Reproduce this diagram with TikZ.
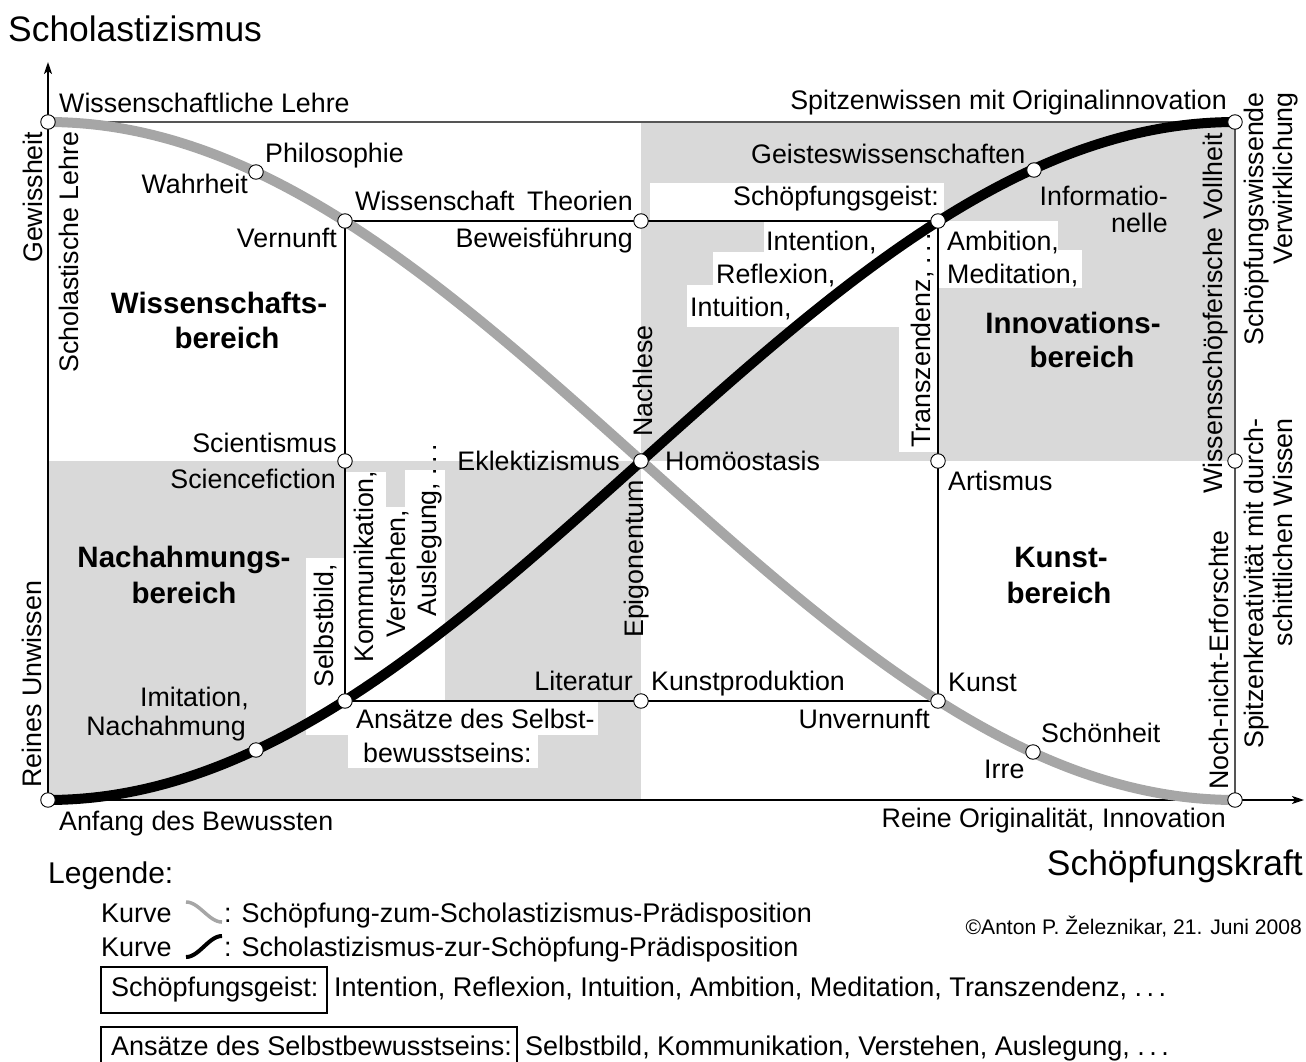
\documentclass[tikz,border=0pt]{standalone}
\usepackage{fontspec}
\setmainfont{Liberation Sans}
\usetikzlibrary{arrows.meta}
\definecolor{regiongray}{RGB}{217,217,217}
\definecolor{curvegray}{RGB}{166,166,166}
\definecolor{linegray}{RGB}{85,85,85}
\begin{document}
\begin{tikzpicture}[x=1pt,y=-1pt,
  lbl/.style={font=\fontsize{26.8}{32}\selectfont, inner sep=0pt},
  bld/.style={font=\fontsize{29.5}{35}\selectfont\bfseries, inner sep=0pt},
  big/.style={font=\fontsize{35.4}{42}\selectfont, inner sep=0pt},
  leg/.style={font=\fontsize{27}{32}\selectfont, inner sep=0pt},
  dot/.style={circle, draw, fill=white, minimum size=14.5pt, inner sep=0pt, line width=0.9pt},
  rectline/.style={line width=1.2pt},
  axis/.style={line width=2pt, -{Stealth[length=12pt,width=8pt,inset=3pt]}},
  vert/.style={lbl, rotate=90}
]
\useasboundingbox (0,0) rectangle (1306,1062);

% gray regions
\fill[regiongray] (641,122) rectangle (1235,461);
\fill[regiongray] (48,461) rectangle (641,800);
% white label backgrounds
\fill[white] (650,183) rectangle (944,221);
\fill[white] (764,221) rectangle (899,253);
\fill[white] (713,252) rectangle (899,286);
\fill[white] (687,285) rectangle (899,327);
\fill[white] (899,221) rectangle (938,452);
\fill[white] (938,221) rectangle (1058,251);
\fill[white] (938,250) rectangle (1082,288);
\fill[white] (306,558) rectangle (346,735);
\fill[white] (345,472) rectangle (386,701);
\fill[white] (385,507) rectangle (406,701);
\fill[white] (405,470) rectangle (445,701);
\fill[white] (345,701) rectangle (598,735);
\fill[white] (348,734) rectangle (538,768);

% coordinates of the points
\coordinate (A) at (48,122);
\coordinate (B) at (48,800);
\coordinate (P) at (256,172);
\coordinate (I) at (256,750);
\coordinate (TL) at (345,221);
\coordinate (ML) at (345,461);
\coordinate (BL) at (345,701);
\coordinate (TM) at (641,221);
\coordinate (C) at (641,461);
\coordinate (BM) at (641,701);
\coordinate (TR) at (938,221);
\coordinate (MR) at (938,461);
\coordinate (BR) at (938,701);
\coordinate (G) at (1034,170);
\coordinate (S) at (1033,752);
\coordinate (RT) at (1235,122);
\coordinate (RM) at (1235,461);
\coordinate (RB) at (1235,800);
\coordinate (ytip) at (48,62);
\coordinate (xtip) at (1304,800);

% lines
\draw[linegray, line width=1.6pt] (A) -- (RT);
\draw[linegray, line width=1.8pt] (RT) -- (RM) -- (RB);
\draw[rectline] (TL) -- (TM) -- (TR) -- (MR) -- (BR) -- (BM) -- (BL) -- (ML) -- cycle;
\draw[axis] (B) -- (ytip);
\draw[axis] (B) -- (xtip);

% curves
\draw[curvegray, line width=10pt] plot[domain=0:1, samples=160] ({48+1187*\x}, {461-339*cos(180*\x)});
\draw[black, line width=10pt] plot[domain=0:1, samples=160] ({48+1187*\x}, {461+339*cos(180*\x)});

% circles
\foreach \p in {A,B,P,I,TL,ML,BL,TM,C,BM,TR,MR,BR,G,S,RT,RM,RB}
  \node[dot] (d\p) at (\p) {};

% titles
\node[big, anchor=base west] (tscho) at (8,42) {Scholastizismus};
\node[big, anchor=base east] (tkraft) at (1303,875) {Schöpfungskraft};

% horizontal labels
\node[lbl, anchor=base west] (lwl) at (59,113) {Wissenschaftliche Lehre};
\node[lbl, anchor=base east] (lspw) at (1227,110) {Spitzenwissen mit Originalinnovation};
\node[lbl, anchor=base west] (lphil) at (265,162) {Philosophie};
\node[lbl, anchor=base east] (lwahr) at (248,193) {Wahrheit};
\node[lbl, anchor=base east] (lvern) at (337,247) {Vernunft};
\node[lbl, anchor=base west] (lwiss) at (355,210) {Wissenschaft};
\node[lbl, anchor=base east] (ltheo) at (633,210) {Theorien};
\node[lbl, anchor=base east] (lbew) at (633,247) {Beweisführung};
\node[lbl, anchor=base east] (lscient) at (337,452) {Scientismus};
\node[lbl, anchor=base east] (lsf) at (336,488) {Sciencefiction};
\node[lbl, anchor=base east] (lekl) at (620,470) {Eklektizismus};
\node[lbl, anchor=base west] (lhom) at (665,470) {Homöostasis};
\node[lbl, anchor=base west] (lgeist) at (751,163) {Geisteswissenschaften};
\node[lbl, anchor=base east] (lschg) at (939,205) {Schöpfungsgeist:};
\node[lbl, anchor=base east] (linf1) at (1168,205) {Informatio-};
\node[lbl, anchor=base east] (linf2) at (1168,232) {nelle};
\node[lbl, anchor=base west] (lint) at (766,250) {Intention,};
\node[lbl, anchor=base west] (lref) at (716,283) {Reflexion,};
\node[lbl, anchor=base west] (lintu) at (690,316) {Intuition,};
\node[lbl, anchor=base west] (lamb) at (947,250) {Ambition,};
\node[lbl, anchor=base west] (lmed) at (947,283) {Meditation,};
\node[lbl, anchor=base west] (lart) at (948,490) {Artismus};
\node[lbl, anchor=base east] (limi1) at (249,706) {Imitation,};
\node[lbl, anchor=base east] (limi2) at (246,735) {Nachahmung};
\node[lbl, anchor=base west] (lans1) at (356,728) {Ansätze des Selbst-};
\node[lbl, anchor=base west] (lans2) at (363,762) {bewusstseins:};
\node[lbl, anchor=base east] (llit) at (633,690) {Literatur};
\node[lbl, anchor=base west] (lkp) at (651,690) {Kunstproduktion};
\node[lbl, anchor=base west] (lkunst) at (948,691) {Kunst};
\node[lbl, anchor=base east] (lunv) at (930,728) {Unvernunft};
\node[lbl, anchor=base west] (lschoen) at (1041,742) {Schönheit};
\node[lbl, anchor=base west] (lirre) at (984,778) {Irre};
\node[lbl, anchor=base west] (lanf) at (59,830) {Anfang des Bewussten};
\node[lbl, anchor=base east] (lrein) at (1226,827) {Reine Originalität, Innovation};

% region titles
\node[bld, anchor=base] (rw1) at (219,313) {Wissenschafts-};
\node[bld, anchor=base] (rw2) at (227,348) {bereich};
\node[bld, anchor=base] (ri1) at (1073,333) {Innovations-};
\node[bld, anchor=base] (ri2) at (1082,367) {bereich};
\node[bld, anchor=base] (rn1) at (184,567) {Nachahmungs-};
\node[bld, anchor=base] (rn2) at (184,603) {bereich};
\node[bld, anchor=base] (rk1) at (1061,567) {Kunst-};
\node[bld, anchor=base] (rk2) at (1059,603) {bereich};

% vertical labels
\node[vert, anchor=base west] (vgew) at (42,263) {Gewissheit};
\node[vert, anchor=base west] (vschl) at (78,373) {Scholastische Lehre};
\node[vert, anchor=base west] (vrein) at (41,788) {Reines Unwissen};
\node[vert, anchor=base west] (vnach) at (652,437) {Nachlese};
\node[vert, anchor=base west] (vepi) at (643,638) {Epigonentum};
\node[vert, anchor=base west] (vtrans) at (930,448) {Transzendenz, .\,.\,.};
\node[vert, anchor=base west] (vselb) at (333,688) {Selbstbild,};
\node[vert, anchor=base west] (vkomm) at (373,663) {Kommunikation,};
\node[vert, anchor=base west] (vverst) at (405,638) {Verstehen,};
\node[vert, anchor=base west] (vausl) at (436,617) {Auslegung, .\,.\,.};
\node[vert, anchor=base east] (vvoll) at (1222,133) {Wissensschöpferische Vollheit};
\node[vert, anchor=base east] (vsw1) at (1263,92) {Schöpfungswissende};
\node[vert, anchor=base east] (vsw2) at (1292,92) {Verwirklichung};
\node[vert, anchor=base east] (vsp1) at (1263,418) {Spitzenkreativität mit durch-};
\node[vert, anchor=base east] (vsp2) at (1292,418) {schittlichen Wissen};
\node[vert, anchor=base west] (vnoch) at (1228,790) {Noch-nicht-Erforschte};

% legend
\node[font=\fontsize{30}{35}\selectfont, inner sep=0pt, anchor=base west] (leg) at (48,883) {Legende:};
\node[leg, anchor=base west] (k1) at (101,922) {Kurve};
\draw[curvegray, line width=3.5pt] plot[domain=0:1, samples=30] ({186+36*\x}, {912-10*cos(180*\x)});
\node[leg, anchor=base west] (k1t) at (224,922) {: Schöpfung-zum-Scholastizismus-Prädisposition};
\node[leg, anchor=base west] (k2) at (101,956) {Kurve};
\draw[black, line width=4pt] plot[domain=0:1, samples=30] ({186+36*\x}, {946.5+10.5*cos(180*\x)});
\node[leg, anchor=base west] (k2t) at (224,956) {: Scholastizismus-zur-Schöpfung-Prädisposition};
\node[font=\fontsize{21.1}{25}\selectfont, inner sep=0pt, anchor=base east] (copy) at (1302,934) {\textcopyright Anton P. Železnikar, 21. Juni 2008};

\coordinate (b1a) at (101,967);
\coordinate (b1b) at (327,1013);
\draw[line width=1.6pt] (b1a) rectangle (b1b);
\node[leg, anchor=base west] (b1t) at (111,996) {Schöpfungsgeist:};
\node[leg, anchor=base west] (b1r) at (334,996) {Intention, Reflexion, Intuition, Ambition, Meditation, Transzendenz, .\,.\,.};

\coordinate (b2a) at (101,1062);
\coordinate (b2b) at (101,1027);
\coordinate (b2c) at (517,1027);
\coordinate (b2d) at (517,1062);
\draw[line width=1.6pt] (b2a) -- (b2b) -- (b2c) -- (b2d);
\node[leg, anchor=base west] (b2t) at (111,1055) {Ansätze des Selbstbewusstseins:};
\node[leg, anchor=base west] (b2r) at (525,1055) {Selbstbild, Kommunikation, Verstehen, Auslegung, .\,.\,.};
\end{tikzpicture}
\end{document}
